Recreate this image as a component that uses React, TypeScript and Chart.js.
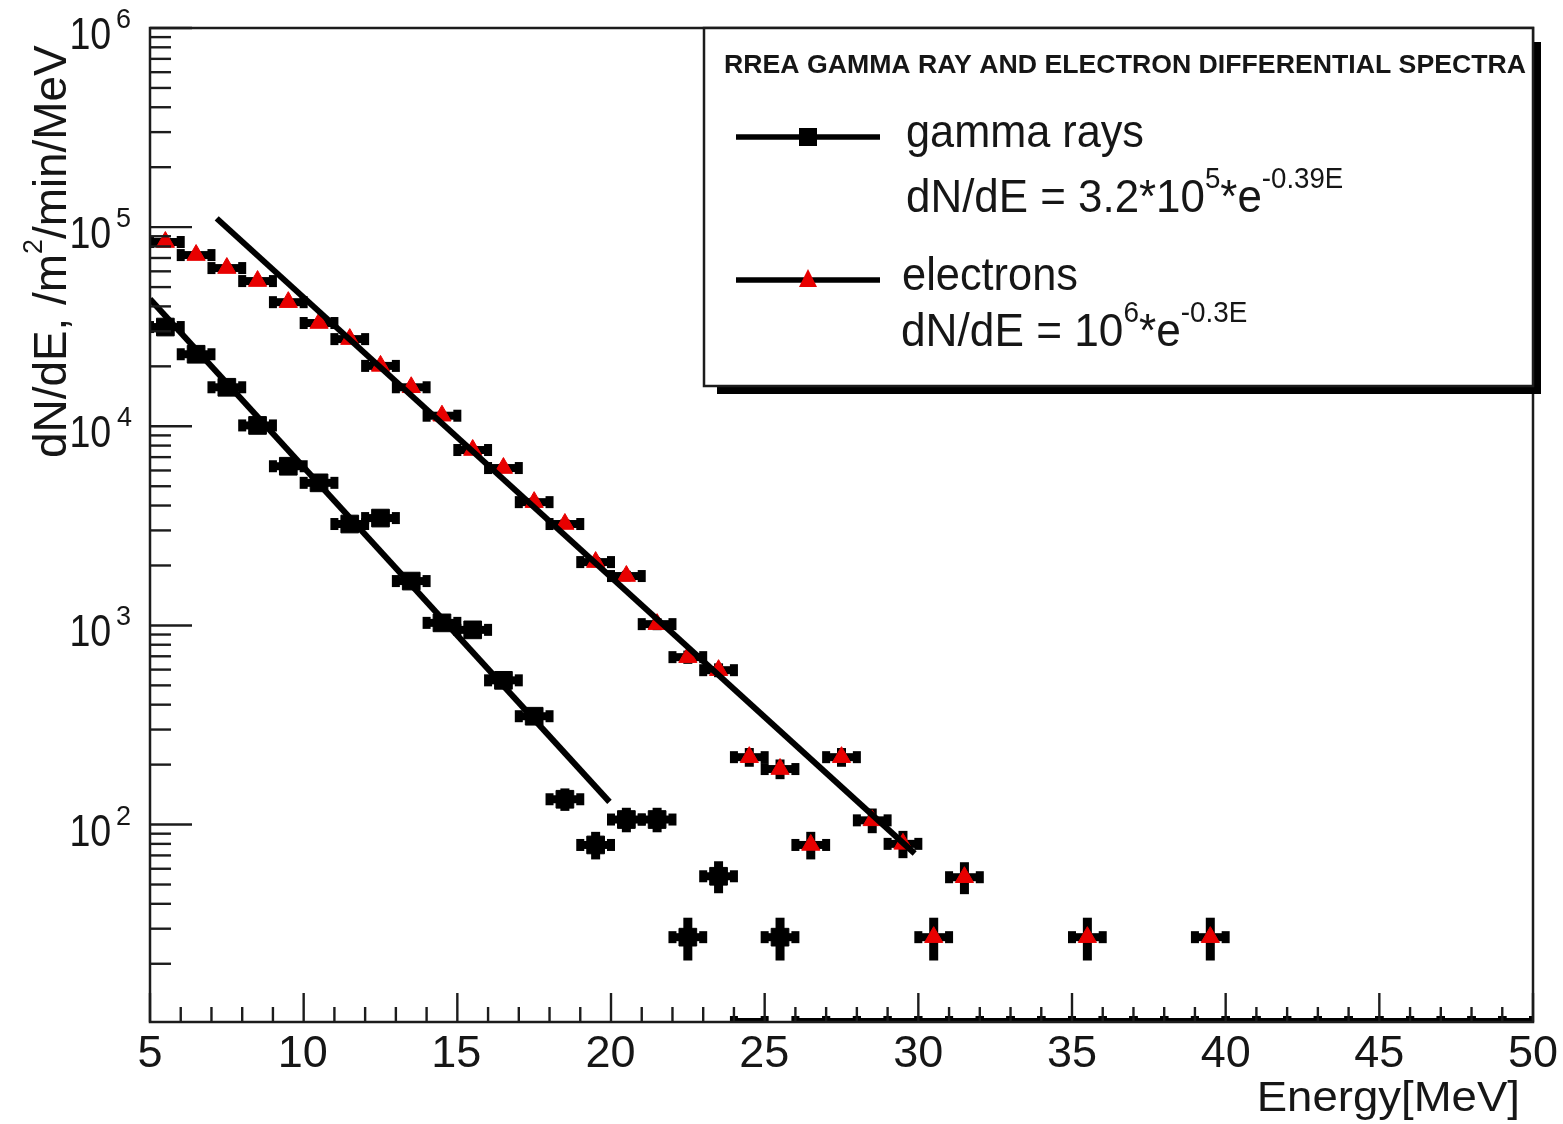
import React, { useEffect, useRef } from 'react';
import { Chart, registerables } from 'chart.js';

Chart.register(...registerables);

// ---------- data ----------
const binCenters = [
  5.5, 6.5, 7.5, 8.5, 9.5, 10.5, 11.5, 12.5, 13.5, 14.5,
  15.5, 16.5, 17.5, 18.5, 19.5, 20.5, 21.5, 22.5, 23.5, 24.5,
  25.5, 26.5, 27.5, 28.5, 29.5, 30.5, 31.5, 32.5, 33.5, 34.5,
  35.5, 36.5, 37.5, 38.5, 39.5, 40.5, 41.5, 42.5, 43.5, 44.5,
  45.5, 46.5, 47.5, 48.5, 49.5,
];
const binHalfWidth = 0.5;

const gammaValues = [
  31500, 23000, 15700, 10100, 6300, 5200, 3230, 3460, 1670, 1030,
  950, 530, 350, 134, 79, 106, 106, 27.2, 55, 0,
  27.2, 0, 0, 0, 0, 0, 0, 0, 0, 0,
  0, 0, 0, 0, 0, 0, 0, 0, 0, 0,
  0, 0, 0, 0, 0,
];
const gammaErrors = [
  195, 167, 138, 111, 87, 79, 63, 65, 45, 35,
  34, 25, 21, 12.7, 9.8, 11.3, 11.3, 5.7, 8.2, 0,
  5.7, 0, 0, 0, 0, 0, 0, 0, 0, 0,
  0, 0, 0, 0, 0, 0, 0, 0, 0, 0,
  0, 0, 0, 0, 0,
];
const electronValues = [
  84200, 72400, 62300, 53600, 42000, 33000, 27400, 20100, 15700, 11300,
  7600, 6170, 4160, 3230, 2080, 1770, 1015, 693, 596, 218,
  190, 79, 218, 105, 80, 27.2, 54.4, 0, 0, 0,
  27.2, 0, 0, 0, 27.2, 0, 0, 0, 0, 0,
  0, 0, 0, 0, 0,
];
const electronErrors = [
  319, 296, 275, 255, 225, 200, 182, 156, 138, 117,
  96, 86, 71, 63, 50, 46, 35, 29, 27, 16,
  15, 9.8, 16, 11.3, 9.8, 5.7, 8.1, 0, 0, 0,
  5.7, 0, 0, 0, 5.7, 0, 0, 0, 0, 0,
  0, 0, 0, 0, 0,
];

// fitted lines (end points)
const gammaFit = [
  { x: 5, y: 43550 },
  { x: 19.95, y: 130 },
];
const electronFit = [
  { x: 7.17, y: 110700 },
  { x: 29.88, y: 71.6 },
];

const xMin = 5;
const xMax = 50;
const yMin = 10.2;
const yMax = 1e6;
const xMajorTicks = [5, 10, 15, 20, 25, 30, 35, 40, 45, 50];
const xTickLabels = ['5', '10', '15', '20', '25', '30', '35', '40', '45', '50'];
const yLabelExponents = [2, 3, 4, 5, 6];

const xTitle = 'Energy[MeV]';
const yTitleRuns = ['dN/dE, /m', '2', '/min/MeV'];
const legendTitle = 'RREA GAMMA RAY AND ELECTRON DIFFERENTIAL SPECTRA';
const gammaLabel = 'gamma rays';
const gammaFormula = ['dN/dE = 3.2*10', '5', '*e', '-0.39E'];
const electronLabel = 'electrons';
const electronFormula = ['dN/dE = 10', '6', '*e', '-0.3E'];

const RED = 'rgb(232,0,0)';
const INK = '#161616';
const FONT = '"Liberation Sans", Arial, Helvetica, sans-serif';

// ---------- text helper ----------
type Run = { t: string; size: number; rise?: number; bold?: boolean };

function drawRuns(
  ctx: CanvasRenderingContext2D,
  runs: Run[],
  x: number,
  y: number,
  inkWidth: number,
  align: 'left' | 'right' | 'center' = 'left'
) {
  ctx.save();
  ctx.textAlign = 'left';
  ctx.textBaseline = 'alphabetic';
  let adv = 0;
  let inkL = 0;
  let inkR = 0;
  const pos: number[] = [];
  runs.forEach((r, i) => {
    ctx.font = `${r.bold ? 'bold ' : ''}${r.size}px ${FONT}`;
    const m = ctx.measureText(r.t);
    if (i === 0) inkL = adv - m.actualBoundingBoxLeft;
    pos.push(adv);
    if (i === runs.length - 1) inkR = adv + m.actualBoundingBoxRight;
    adv += m.width;
  });
  const natural = inkR - inkL;
  const s = inkWidth > 0 ? inkWidth / natural : 1;
  let x0 = x;
  if (align === 'right') x0 = x - natural * s;
  else if (align === 'center') x0 = x - (natural * s) / 2;
  ctx.translate(x0, y);
  ctx.scale(s, 1);
  ctx.translate(-inkL, 0);
  ctx.fillStyle = INK;
  runs.forEach((r, i) => {
    ctx.font = `${r.bold ? 'bold ' : ''}${r.size}px ${FONT}`;
    ctx.fillText(r.t, pos[i], -(r.rise || 0));
  });
  ctx.restore();
}

function formulaRuns(parts: string[]): Run[] {
  return parts.map((t, i) =>
    i % 2 === 0 ? { t, size: 46 } : { t, size: 29, rise: 24 }
  );
}

// ---------- plugins ----------
const series = [
  { values: gammaValues, errors: gammaErrors },
  { values: electronValues, errors: electronErrors },
];

const backgroundPlugin = {
  id: 'bg',
  beforeDraw(chart: any) {
    const ctx = chart.ctx;
    ctx.save();
    ctx.fillStyle = '#ffffff';
    ctx.fillRect(0, 0, chart.width, chart.height);
    ctx.restore();
  },
};

const errorBarPlugin = {
  id: 'errorBars',
  beforeDatasetsDraw(chart: any) {
    const ctx = chart.ctx;
    const xs = chart.scales.x;
    const ys = chart.scales.y;
    const a = chart.chartArea;
    ctx.save();
    ctx.beginPath();
    ctx.rect(a.left, a.top, a.right - a.left, a.bottom - a.top);
    ctx.clip();
    ctx.fillStyle = '#000';
    series.forEach((s) => {
      binCenters.forEach((c, i) => {
        const v = s.values[i];
        const xl = xs.getPixelForValue(c - binHalfWidth);
        const xr = xs.getPixelForValue(c + binHalfWidth);
        const xc = xs.getPixelForValue(c);
        const y = v > 0 ? ys.getPixelForValue(v) : a.bottom;
        // horizontal bar with end blocks
        ctx.fillRect(xl, y - 4, xr - xl, 8);
        ctx.fillRect(xl - 4, y - 6, 8, 12);
        ctx.fillRect(xr - 4, y - 6, 8, 12);
        if (v > 0) {
          const e = s.errors[i];
          const yt = ys.getPixelForValue(v + e);
          const yb = ys.getPixelForValue(Math.max(v - e, yMin * 0.5));
          ctx.fillRect(xc - 4.5, yt - 3, 9, yb - yt + 6);
        }
      });
    });
    ctx.restore();
  },
};

const axesPlugin = {
  id: 'rootAxes',
  afterDatasetsDraw(chart: any) {
    const ctx = chart.ctx;
    const xs = chart.scales.x;
    const ys = chart.scales.y;
    const a = chart.chartArea;
    ctx.save();
    ctx.strokeStyle = '#1c1c1c';
    ctx.lineWidth = 2.5;
    ctx.strokeRect(a.left, a.top, a.right - a.left, a.bottom - a.top);

    // x ticks
    ctx.lineWidth = 2.4;
    for (let e = xMin; e <= xMax; e += 1) {
      const px = xs.getPixelForValue(e);
      const major = xMajorTicks.includes(e);
      const len = major ? 29 : 15;
      ctx.beginPath();
      ctx.moveTo(px, a.bottom);
      ctx.lineTo(px, a.bottom - len);
      ctx.stroke();
    }
    // y ticks
    for (let k = 0; k <= 6; k++) {
      for (let m = 1; m <= 9; m++) {
        const v = m * Math.pow(10, k);
        if (v < yMin || v > yMax) continue;
        const py = ys.getPixelForValue(v);
        const len = m === 1 ? 42 : 21;
        ctx.beginPath();
        ctx.moveTo(a.left, py);
        ctx.lineTo(a.left + len, py);
        ctx.stroke();
      }
    }

    // x tick labels
    xMajorTicks.forEach((t, i) => {
      const px = xs.getPixelForValue(t);
      drawRuns(ctx, [{ t: xTickLabels[i], size: 45 }], px, 1067, 0, 'center');
    });
    // y tick labels
    yLabelExponents.forEach((p) => {
      const py = ys.getPixelForValue(Math.pow(10, p));
      drawRuns(ctx, [{ t: '10', size: 44 }], 110, py + 21, 38, 'right');
      drawRuns(ctx, [{ t: String(p), size: 27 }], 117, py + 0, 0, 'left');
    });

    // axis titles
    drawRuns(ctx, [{ t: xTitle, size: 42 }], 1517, 1111, 257, 'right');
    ctx.save();
    ctx.translate(66, 457);
    ctx.rotate(-Math.PI / 2);
    drawRuns(
      ctx,
      [
        { t: yTitleRuns[0], size: 46 },
        { t: yTitleRuns[1], size: 27, rise: 24 },
        { t: yTitleRuns[2], size: 46 },
      ],
      0,
      0,
      412,
      'left'
    );
    ctx.restore();
    ctx.restore();
  },
};

const legendPlugin = {
  id: 'rootLegend',
  afterDraw(chart: any) {
    const ctx = chart.ctx;
    const a = chart.chartArea;
    const bx = 704;
    const by = a.top;
    const br = a.right;
    const bb = 386;
    ctx.save();
    // shadow
    ctx.fillStyle = '#000';
    ctx.fillRect(br, by + 14, 8, bb - by - 14 + 8);
    ctx.fillRect(bx + 13, bb, br - bx - 13 + 8, 8);
    // box
    ctx.fillStyle = '#fff';
    ctx.fillRect(bx, by, br - bx, bb - by);
    ctx.strokeStyle = '#1c1c1c';
    ctx.lineWidth = 2.5;
    ctx.strokeRect(bx, by, br - bx, bb - by);

    drawRuns(ctx, [{ t: legendTitle, size: 25, bold: true }], 725, 73, 801, 'left');

    // gamma entry
    ctx.strokeStyle = '#000';
    ctx.lineWidth = 5.5;
    ctx.beginPath();
    ctx.moveTo(736, 137);
    ctx.lineTo(880, 137);
    ctx.stroke();
    ctx.fillStyle = '#000';
    ctx.fillRect(799, 128, 18, 18);
    drawRuns(ctx, [{ t: gammaLabel, size: 46 }], 907, 147, 236, 'left');
    drawRuns(ctx, formulaRuns(gammaFormula), 907, 212, 436, 'left');

    // electron entry
    ctx.beginPath();
    ctx.moveTo(736, 280);
    ctx.lineTo(880, 280);
    ctx.stroke();
    ctx.fillStyle = RED;
    ctx.beginPath();
    ctx.moveTo(808, 269);
    ctx.lineTo(817, 287);
    ctx.lineTo(799, 287);
    ctx.closePath();
    ctx.fill();
    drawRuns(ctx, [{ t: electronLabel, size: 46 }], 903, 290, 174, 'left');
    drawRuns(ctx, formulaRuns(electronFormula), 902, 346, 345, 'left');
    ctx.restore();
  },
};

export default function App() {
  const ref = useRef<HTMLCanvasElement>(null);

  useEffect(() => {
    const canvas = ref.current;
    if (!canvas) return;
    const toPoints = (vals: number[]) =>
      binCenters.map((x, i) => ({ x, y: vals[i] > 0 ? vals[i] : null }));

    const chart = new Chart(canvas, {
      type: 'scatter',
      data: {
        datasets: [
          {
            label: 'gamma fit',
            data: gammaFit,
            showLine: true,
            borderColor: '#000',
            borderWidth: 6,
            pointRadius: 0,
            order: 0,
          },
          {
            label: 'electron fit',
            data: electronFit,
            showLine: true,
            borderColor: '#000',
            borderWidth: 6,
            pointRadius: 0,
            order: 0,
          },
          {
            label: gammaLabel,
            data: toPoints(gammaValues) as any,
            pointStyle: 'rect',
            pointRadius: 12.5,
            pointBackgroundColor: '#000',
            pointBorderColor: '#000',
            pointBorderWidth: 1,
            order: 1,
          },
          {
            label: electronLabel,
            data: toPoints(electronValues) as any,
            pointStyle: 'triangle',
            pointRadius: 10.5,
            pointBackgroundColor: RED,
            pointBorderColor: RED,
            pointBorderWidth: 1,
            order: 1,
          },
        ],
      },
      options: {
        responsive: false,
        animation: false,
        layout: { padding: { left: 150, top: 28, right: 30, bottom: 102 } },
        plugins: {
          legend: { display: false },
          tooltip: { enabled: false },
        },
        scales: {
          x: { type: 'linear', min: xMin, max: xMax, display: false },
          y: { type: 'logarithmic', min: yMin, max: yMax, display: false },
        },
      },
      plugins: [backgroundPlugin, errorBarPlugin, axesPlugin, legendPlugin],
    });
    return () => chart.destroy();
  }, []);

  return (
    <div style={{ position: 'absolute', left: 0, top: 0, width: 1563, height: 1124 }}>
      <canvas ref={ref} width={1563} height={1124} style={{ display: 'block' }} />
    </div>
  );
}
